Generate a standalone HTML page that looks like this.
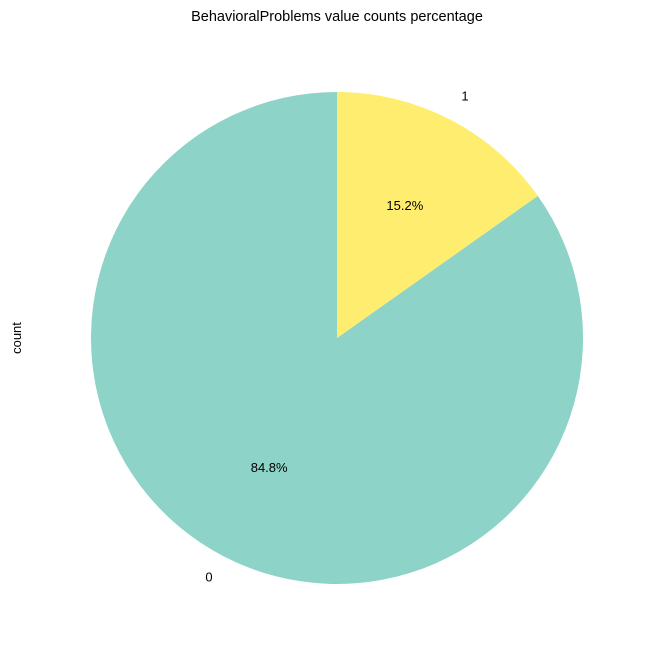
<!DOCTYPE html>
<html><head><meta charset="utf-8"><style>
html,body{margin:0;padding:0;background:#fff;}
svg{display:block;font-family:"Liberation Sans","DejaVu Sans",sans-serif;}
</style></head><body>
<svg id="chart" width="655" height="656" viewBox="0 0 655 656">
<text x="337" y="21" text-anchor="middle" font-size="14.5">BehavioralProblems value counts percentage</text>
<text transform="translate(21,338) rotate(-90)" text-anchor="middle" font-size="13">count</text>
<g id="slices"></g>
</svg>
<script>
const categories = ["0", "1"];
const values = [84.8, 15.2];
const colors = ["#8dd3c7", "#ffed6f"];
const cx = 337, cy = 338, r = 246, startAngle = 90;
const svgNS = "http://www.w3.org/2000/svg";
const g = document.getElementById("slices");
const total = values.reduce((a, b) => a + b, 0);
let a0 = startAngle;
function pt(deg, rad) { const t = deg * Math.PI / 180; return [cx + rad * Math.cos(t), cy - rad * Math.sin(t)]; }
values.forEach((v, i) => {
  const sweep = v / total * 360;
  const a1 = a0 + sweep;
  const [x0, y0] = pt(a0, r), [x1, y1] = pt(a1, r);
  const large = sweep > 180 ? 1 : 0;
  const p = document.createElementNS(svgNS, "path");
  p.setAttribute("d", `M${cx},${cy} L${x0},${y0} A${r},${r} 0 ${large} 0 ${x1},${y1} Z`);
  p.setAttribute("fill", colors[i]);
  
  
  g.appendChild(p);
  const mid = a0 + sweep / 2;
  const [lx, ly] = pt(mid, r * 1.1);
  const lt = document.createElementNS(svgNS, "text");
  lt.setAttribute("x", lx); lt.setAttribute("y", ly + 3);
  lt.setAttribute("text-anchor", Math.cos(mid * Math.PI / 180) >= 0 ? "start" : "end");
  lt.setAttribute("font-size", "13");
  lt.textContent = categories[i];
  
  
  g.appendChild(lt);
  const [px, py] = pt(mid, r * 0.6);
  const pt2 = document.createElementNS(svgNS, "text");
  pt2.setAttribute("x", px); pt2.setAttribute("y", py + 3);
  pt2.setAttribute("text-anchor", "middle");
  pt2.setAttribute("font-size", "13");
  pt2.textContent = v.toFixed(1) + "%";
  
  
  g.appendChild(pt2);
  a0 = a1;
});
</script>
</body></html>
